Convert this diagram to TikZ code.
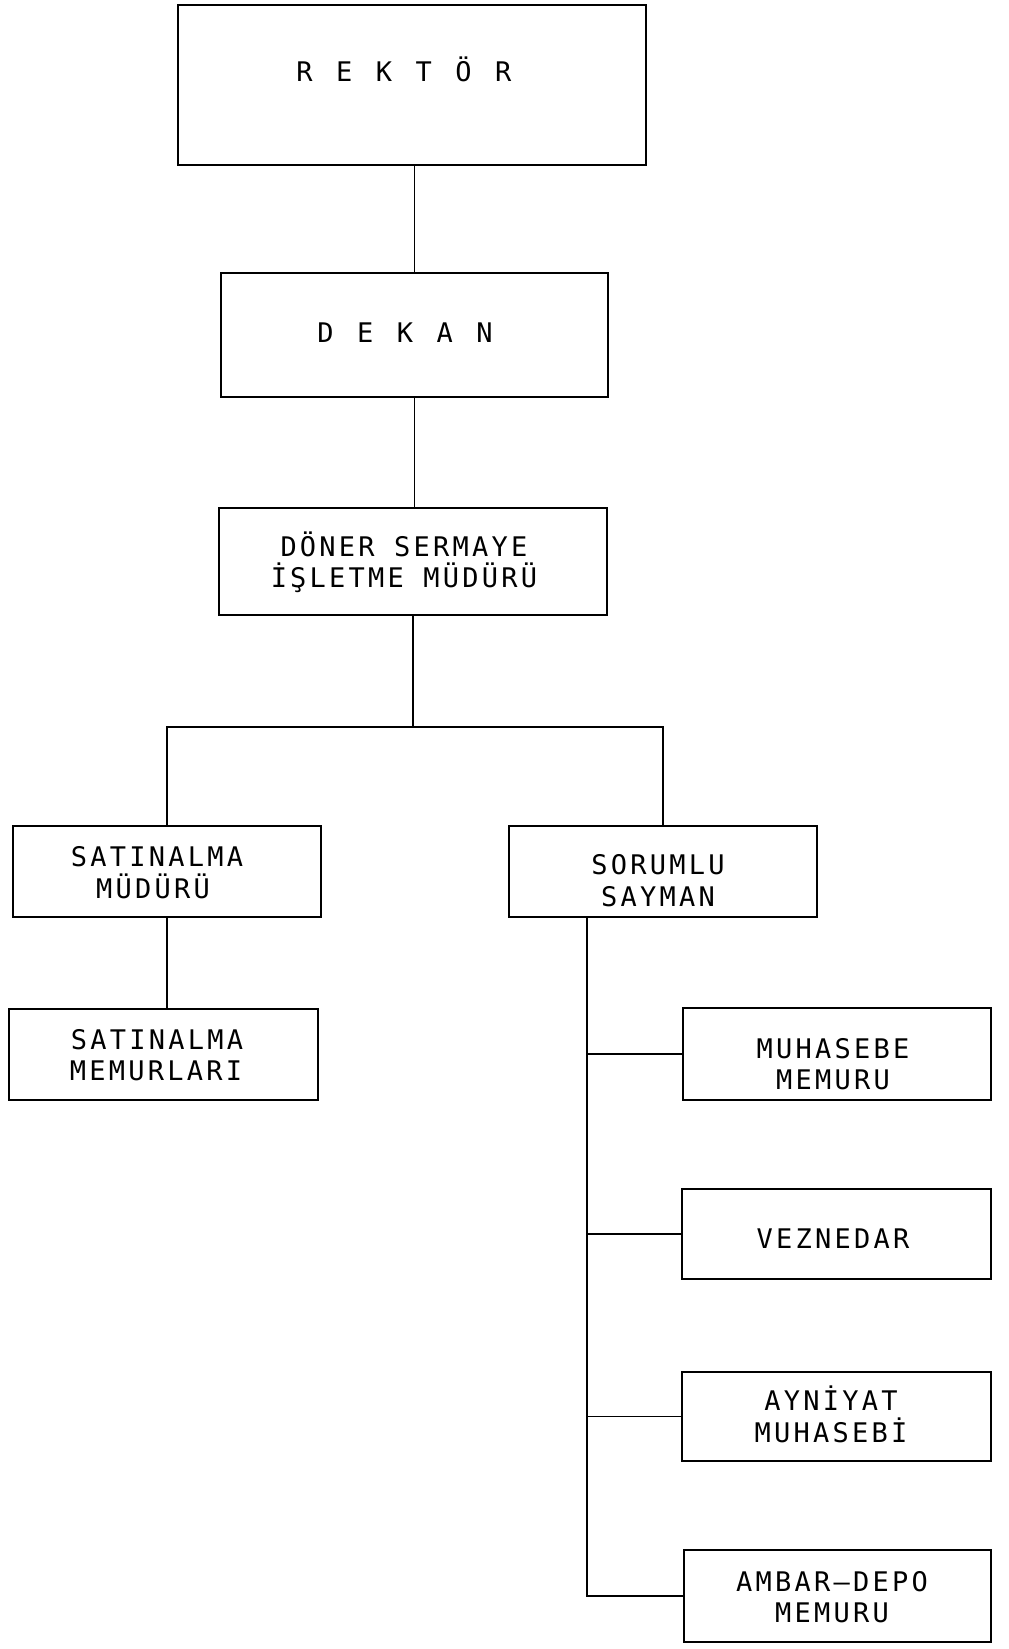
\documentclass[tikz,border=0pt]{standalone}
\usepackage{fontspec}
\newfontfamily\orgfont[LetterSpace=12]{DejaVu Sans Mono}
% wide gap between the letters of the spaced-out titles
\newcommand\tgap{\hspace{23.5pt}}
\tikzset{
  unit/.style={draw=black, line width=1.8pt, rectangle, inner sep=0pt},
  lbl/.style={font={\orgfont\fontsize{27}{31}\selectfont},
              inner sep=0pt, anchor=base, text=black},
  link/.style={line width=1.8pt, draw=black},
}
\begin{document}
\begin{tikzpicture}[x=1pt,y=-1pt]
\useasboundingbox (0,0) rectangle (1009,1649);
\fill[white] (0,0) rectangle (1009,1649);

% boxes
\node[unit, minimum width=468, minimum height=160] (rektor)   at (412,85) {};
\node[unit, minimum width=387, minimum height=124] (dekan)    at (414.5,335) {};
\node[unit, minimum width=388, minimum height=107] (doner)    at (413,561.5) {};
\node[unit, minimum width=308, minimum height=91]  (satmud)   at (167,871.5) {};
\node[unit, minimum width=308, minimum height=91]  (sayman)   at (663,871.5) {};
\node[unit, minimum width=309, minimum height=91]  (satmem)   at (163.5,1054.5) {};
\node[unit, minimum width=308, minimum height=92]  (muhasebe) at (837,1054) {};
\node[unit, minimum width=309, minimum height=90]  (vezne)    at (836.5,1234) {};
\node[unit, minimum width=309, minimum height=89]  (ayni)     at (836.5,1416.5) {};
\node[unit, minimum width=307, minimum height=92]  (ambar)    at (837.5,1596) {};

% labels
\node[lbl] (rektor-t)  at (404,81.5)  {R\tgap E\tgap K\tgap T\tgap Ö\tgap R};
\node[lbl] (dekan-t)   at (405,342)   {D\tgap E\tgap K\tgap A\tgap N};
\node[lbl] (doner-t1)  at (404,556.5) {DÖNER SERMAYE};
\node[lbl] (doner-t2)  at (404,587.5) {İŞLETME MÜDÜRÜ};
\node[lbl] (satmud-t1) at (157,866)   {SATINALMA};
\node[lbl] (satmud-t2) at (153,898)   {MÜDÜRÜ};
\node[lbl] (sayman-t1) at (658,874)   {SORUMLU};
\node[lbl] (sayman-t2) at (658,906)   {SAYMAN};
\node[lbl] (satmem-t1) at (157,1049.5){SATINALMA};
\node[lbl] (satmem-t2) at (156,1080.5){MEMURLARI};
\node[lbl] (muh-t1)    at (833,1058)  {MUHASEBE};
\node[lbl] (muh-t2)    at (833,1089)  {MEMURU};
\node[lbl] (vezne-t)   at (833,1248)  {VEZNEDAR};
\node[lbl] (ayni-t1)   at (831,1410)  {AYNİYAT};
\node[lbl] (ayni-t2)   at (831,1442)  {MUHASEBİ};
\node[lbl] (ambar-t1)  at (832,1591.5){AMBAR–DEPO};
\node[lbl] (ambar-t2)  at (832,1622.5){MEMURU};

% connectors
\coordinate (bar) at (414,727);
\coordinate (trunk) at ([xshift=-76pt]sayman.south);

\draw[link] (rektor.south -| dekan.north) -- (dekan.north);
\draw[link] (dekan.south) -- (dekan.south |- doner.north);
\draw[link] (doner.south) -- (doner.south |- bar);
\draw[link] (satmud.north) -- (satmud.north |- bar) -- (sayman.north |- bar) -- (sayman.north);
\draw[link] (satmud.south) -- (satmud.south |- satmem.north);
\draw[link] (trunk) |- (ambar.west);
\draw[link] (trunk |- muhasebe.west) -- (muhasebe.west);
\draw[link] (trunk |- vezne.west) -- (vezne.west);
\draw[link] (trunk |- ayni.west) -- (ayni.west);
\end{tikzpicture}
\end{document}
